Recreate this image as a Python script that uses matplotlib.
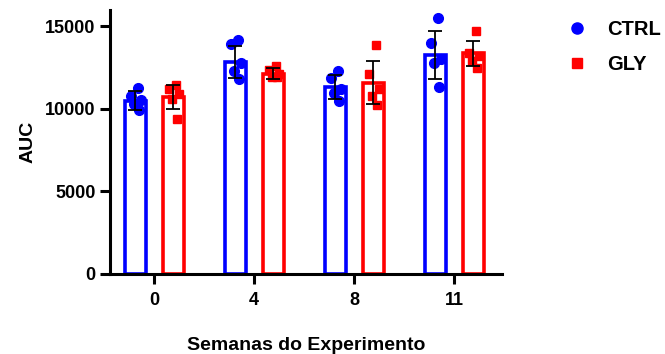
import matplotlib.pyplot as plt
import numpy as np
from matplotlib.lines import Line2D

# === DATA ===
weeks = ["0", "4", "8", "11"]

ctrl_mean = [10500, 12850, 11320, 13250]
ctrl_sd = [560, 970, 730, 1450]
gly_mean = [10710, 12130, 11570, 13350]
gly_sd = [710, 335, 1300, 780]

ctrl_points = [
    [11250, 10800, 10550, 10300, 9900],
    [14150, 13900, 12750, 12300, 11800],
    [12300, 11850, 11200, 10950, 10500],
    [15500, 14000, 13000, 12800, 11300],
]
gly_points = [
    [11420, 11200, 10900, 10600, 9400],
    [12600, 12350, 12130, 11950, 11900],
    [13850, 12100, 11200, 10800, 10250],
    [14700, 13400, 13200, 12900, 12500],
]

# === STYLE ===
BLUE = "#0000ff"
RED = "#ff0000"
plt.rcParams["font.family"] = ["Liberation Sans", "DejaVu Sans"]
plt.rcParams["font.weight"] = "bold"

x = np.arange(len(weeks))
offset = 0.19
width = 0.21
jitter = [0.03, -0.04, 0.06, -0.01, 0.04]

fig = plt.figure(figsize=(6.65, 3.54), dpi=100)
ax = fig.add_axes([0.1654, 0.226, 0.5895, 0.7466])

for xs, means, sds, pts, col, mk in [
    (x - offset, ctrl_mean, ctrl_sd, ctrl_points, BLUE, "o"),
    (x + offset, gly_mean, gly_sd, gly_points, RED, "s"),
]:
    ax.bar(xs, means, width=width, facecolor="white", edgecolor=col,
           linewidth=2.6, zorder=2)
    for xi, p in zip(xs, pts):
        ax.plot(xi + np.array(jitter[:len(p)]), p, linestyle="none",
                marker=mk, color=col, markersize=7 if mk == "o" else 6.3,
                zorder=3)
    ax.errorbar(xs, means, yerr=sds, fmt="none", ecolor="black",
                elinewidth=1.3, capsize=5, capthick=1.3, zorder=4)

ax.set_xlim(-0.443, 3.48)
ax.set_ylim(0, 16000)
ax.set_yticks([0, 5000, 10000, 15000])
ax.set_xticks(x)
ax.set_xticklabels(weeks)
ax.tick_params(axis="both", labelsize=13, width=2.2, length=7)
ax.tick_params(axis="x", pad=6)
for lab in ax.get_xticklabels() + ax.get_yticklabels():
    lab.set_fontweight("bold")

ax.spines["top"].set_visible(False)
ax.spines["right"].set_visible(False)
ax.spines["left"].set_linewidth(2.2)
ax.spines["bottom"].set_linewidth(2.2)

ax.set_xlabel("Semanas do Experimento", fontsize=14, fontweight="bold", labelpad=20)
ax.set_ylabel("AUC", fontsize=14, fontweight="bold", labelpad=6)

handles = [
    Line2D([], [], linestyle="none", marker="o", color=BLUE, markersize=8),
    Line2D([], [], linestyle="none", marker="s", color=RED, markersize=7),
]
fig.legend(handles, ["CTRL", "GLY"], loc="upper left",
           bbox_to_anchor=(0.81, 0.995), frameon=False,
           prop={"size": 14.5, "weight": "bold"}, handletextpad=0.5,
           labelspacing=0.8)

fig.savefig("out.png", dpi=100)
